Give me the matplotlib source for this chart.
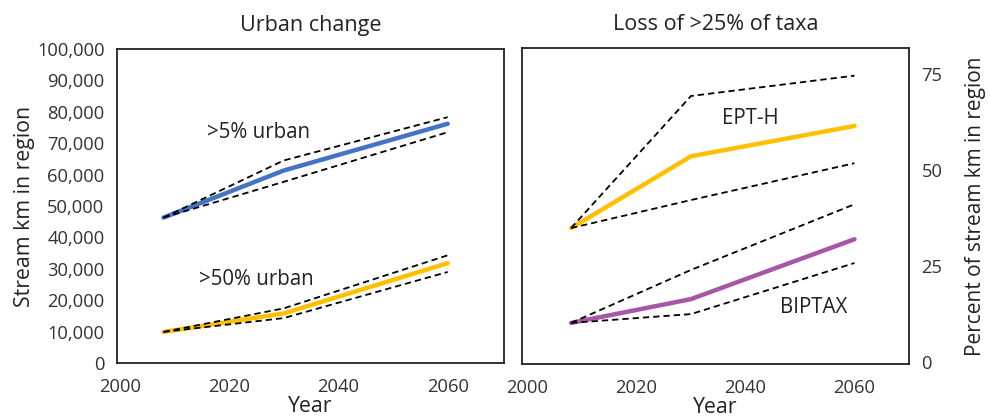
import matplotlib
matplotlib.use("Agg")
import matplotlib.pyplot as plt
from matplotlib.ticker import FuncFormatter

# ---- data ----
years = [2008, 2030, 2060]

urban5 = [46300, 61300, 76200]
urban5_hi = [46300, 64500, 78300]
urban5_lo = [46300, 57700, 73500]

urban50 = [9900, 15800, 31800]
urban50_hi = [9900, 17400, 34300]
urban50_lo = [9900, 14300, 29000]

epth = [34.9, 53.6, 61.5]
epth_hi = [34.9, 69.3, 74.6]
epth_lo = [34.9, 42.2, 51.8]

biptax = [10.2, 16.4, 32.0]
biptax_hi = [10.2, 24.0, 41.1]
biptax_lo = [10.2, 12.5, 25.8]

xticks = [2000, 2020, 2040, 2060]
left_yticks = list(range(0, 100001, 10000))
right_yticks = [0, 25, 50, 75]

# ---- style ----
plt.rcParams['font.family'] = ['Open Sans', 'DejaVu Sans']
TXT = '#333333'
DARK = '#222222'
BLUE = '#4472C4'
GOLD = '#FFC000'
PURPLE = '#A657A6'
FRAME = '#222222'

fig = plt.figure(figsize=(9.9, 4.17), dpi=100)
ax1 = fig.add_axes([117/990, 54/417, 387/990, 314/417])
ax2 = fig.add_axes([522/990, 53/417, 387/990, 316/417])

dash = dict(color='black', lw=1.3, ls=(0, (3.5, 2.2)))

# left panel
ax1.plot(years, urban5, color=BLUE, lw=3.2, solid_capstyle='round')
ax1.plot(years, urban5_hi, **dash)
ax1.plot(years, urban5_lo, **dash)
ax1.plot(years, urban50, color=GOLD, lw=3.2, solid_capstyle='round')
ax1.plot(years, urban50_hi, **dash)
ax1.plot(years, urban50_lo, **dash)
ax1.set_xlim(1999.5, 2070.3)
ax1.set_ylim(0, 100000)
ax1.set_yticks(left_yticks)
ax1.yaxis.set_major_formatter(FuncFormatter(lambda v, p: f"{int(v):,}"))
ax1.set_xticks(xticks)
ax1.text(2025.3, 73500, '>5% urban', fontsize=14.8, color=DARK, ha='center', va='center')
ax1.text(2025.0, 26500, '>50% urban', fontsize=14.8, color=DARK, ha='center', va='center')
ax1.set_title('Urban change', fontsize=15.5, color=DARK, pad=13)
ax1.set_ylabel('Stream km in region', fontsize=15.3, color=DARK, labelpad=1)
ax1.set_xlabel('Year', fontsize=15.3, color=DARK, labelpad=0)

# right panel
ax2.plot(years, epth, color=GOLD, lw=3.2, solid_capstyle='round')
ax2.plot(years, epth_hi, **dash)
ax2.plot(years, epth_lo, **dash)
ax2.plot(years, biptax, color=PURPLE, lw=3.2, solid_capstyle='round')
ax2.plot(years, biptax_hi, **dash)
ax2.plot(years, biptax_lo, **dash)
ax2.set_xlim(1999.0, 2070.0)
ax2.set_ylim(-0.5, 81.8)
ax2.set_yticks(right_yticks)
ax2.set_xticks(xticks)
ax2.yaxis.tick_right()
ax2.yaxis.set_label_position('right')
ax2.text(2040.8, 63.5, 'EPT-H', fontsize=14.8, color=DARK, ha='center', va='center')
ax2.text(2052.6, 14.3, 'BIPTAX', fontsize=14.8, color=DARK, ha='center', va='center')
ax2.set_title('Loss of >25% of taxa', fontsize=15.5, color=DARK, pad=13)
ax2.set_ylabel('Percent of stream km in region', fontsize=15.0, color=DARK, labelpad=16)
ax2.set_xlabel('Year', fontsize=15.3, color=DARK, labelpad=0)

for ax in (ax1, ax2):
    for s in ax.spines.values():
        s.set_color(FRAME)
        s.set_linewidth(1.3)
    ax.tick_params(axis='both', length=0, labelsize=13.2, labelcolor=TXT)
    ax.tick_params(axis='x', pad=11)
    ax.tick_params(axis='y', pad=9)

fig.savefig('out.png', dpi=100)
